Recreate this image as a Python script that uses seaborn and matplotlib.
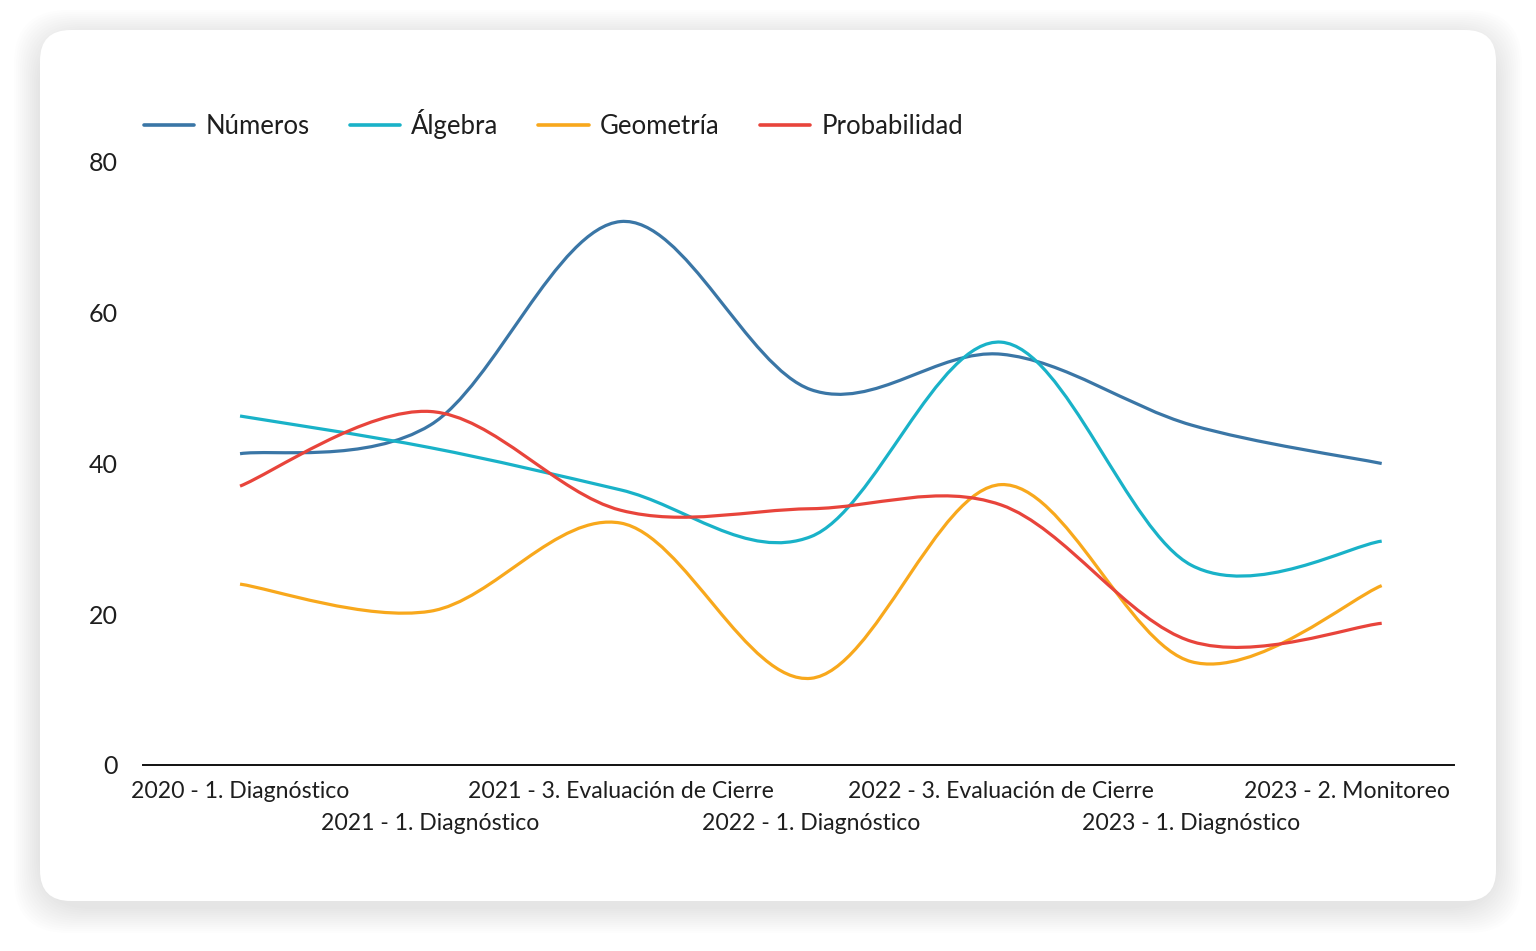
import numpy as np
import pandas as pd
import matplotlib
matplotlib.use("Agg")
import matplotlib.pyplot as plt
import seaborn as sns
from matplotlib.path import Path
from matplotlib.patches import PathPatch, FancyBboxPatch
from matplotlib.lines import Line2D
import matplotlib.transforms as mtransforms

# ---------------- data ----------------
periodos = [
    "2020 - 1. Diagnóstico",
    "2021 - 1. Diagnóstico",
    "2021 - 3. Evaluación de Cierre",
    "2022 - 1. Diagnóstico",
    "2022 - 3. Evaluación de Cierre",
    "2023 - 1. Diagnóstico",
    "2023 - 2. Monitoreo",
]
numeros = [41.3, 45.1, 72.1, 49.8, 54.5, 45.1, 40.0]
algebra = [46.3, 42.1, 36.5, 30.3, 56.1, 26.5, 29.7]
geometria = [24.0, 20.4, 32.1, 11.5, 37.2, 13.7, 23.8]
probabilidad = [37.0, 46.9, 33.8, 34.0, 34.5, 16.4, 18.8]

series = {"Números": numeros, "Álgebra": algebra, "Geometría": geometria, "Probabilidad": probabilidad}
colores = {"Números": "#3a76a6", "Álgebra": "#19b2c8", "Geometría": "#f8a81c", "Probabilidad": "#e8443b"}

df = pd.DataFrame(series, index=periodos)

# ---------------- style ----------------
sns.set_theme(style="white")
plt.rcParams['font.family'] = ['Lato', 'DejaVu Sans']
texto = "#1e1e1e"

fig = plt.figure(figsize=(15.36, 9.51), dpi=100)
fig.patch.set_facecolor("white")

# card with soft shadow
W, H = 1536, 951
cx0, cy0, cx1, cy1 = 40, 30, 1496, 901
for k in range(26, 0, -2):
    sh = FancyBboxPatch(((cx0 - k) / W, (H - cy1 - k - 6) / H), (cx1 - cx0 + 2 * k) / W, (cy1 - cy0 + 2 * k) / H,
                        boxstyle="round,pad=0,rounding_size=0.035", transform=fig.transFigure,
                        facecolor="#000000", edgecolor="none", alpha=0.006, mutation_aspect=W / H, zorder=0)
    fig.patches.append(sh)
card = FancyBboxPatch((cx0 / W, (H - cy1) / H), (cx1 - cx0) / W, (cy1 - cy0) / H,
                      boxstyle="round,pad=0,rounding_size=0.02", transform=fig.transFigure,
                      facecolor="white", edgecolor="none", mutation_aspect=W / H, zorder=1)
fig.patches.append(card)

ax = fig.add_axes([143 / W, (H - 765) / H, (1454 - 143) / W, (765 - 162) / H])
ax.set_facecolor("none")
ax.set_zorder(2)

x = np.arange(len(periodos), dtype=float)


def smooth_path(xs, ys):
    # Catmull-Rom spline through the points, written as cubic Bezier segments
    pts = np.column_stack([xs, ys])
    ext = np.vstack([pts[0], pts, pts[-1]])
    verts = [pts[0]]
    codes = [Path.MOVETO]
    for i in range(len(pts) - 1):
        p0, p1, p2, p3 = ext[i], ext[i + 1], ext[i + 2], ext[i + 3]
        verts += [p1 + (p2 - p0) / 6, p2 - (p3 - p1) / 6, p2]
        codes += [Path.CURVE4] * 3
    return Path(verts, codes)


handles = []
for nombre in df.columns:
    patch = PathPatch(smooth_path(x, df[nombre].values), facecolor="none", edgecolor=colores[nombre],
                      lw=2.3, capstyle="butt", joinstyle="round")
    ax.add_patch(patch)
    handles.append(Line2D([], [], color=colores[nombre], lw=2.6))

ax.set_xlim(-0.51, 6.38)
ax.set_ylim(0, 80)
ax.set_yticks([0, 20, 40, 60, 80])
ax.tick_params(axis="y", length=0, pad=18, labelsize=18, labelcolor=texto)
ax.set_xticks([])
sns.despine(ax=ax, left=True, top=True, right=True)
ax.spines["bottom"].set_color("#111111")
ax.spines["bottom"].set_linewidth(1.4)
ax.grid(False)

# staggered category labels
trans = mtransforms.blended_transform_factory(ax.transData, ax.transAxes)
for i, lab in enumerate(periodos):
    dy = -26 if i % 2 == 0 else -58
    if i == len(periodos) - 1:
        off = mtransforms.offset_copy(trans, fig=fig, x=68 * 72 / 100, y=dy * 72 / 100, units="points")
        ax.text(i, 0, lab, transform=off, ha="right", va="center", fontsize=16.6, color=texto)
    else:
        off = mtransforms.offset_copy(trans, fig=fig, x=0, y=dy * 72 / 100, units="points")
        ax.text(i, 0, lab, transform=off, ha="center", va="center", fontsize=16.6, color=texto)

fig.legend(handles, list(df.columns), loc="center left", bbox_to_anchor=(121 / W, (H - 124) / H),
           ncol=4, frameon=False, fontsize=18.5, handlelength=1.95, handletextpad=0.45,
           columnspacing=1.55, labelcolor=texto)

fig.savefig("out.png", dpi=100, facecolor="white")
